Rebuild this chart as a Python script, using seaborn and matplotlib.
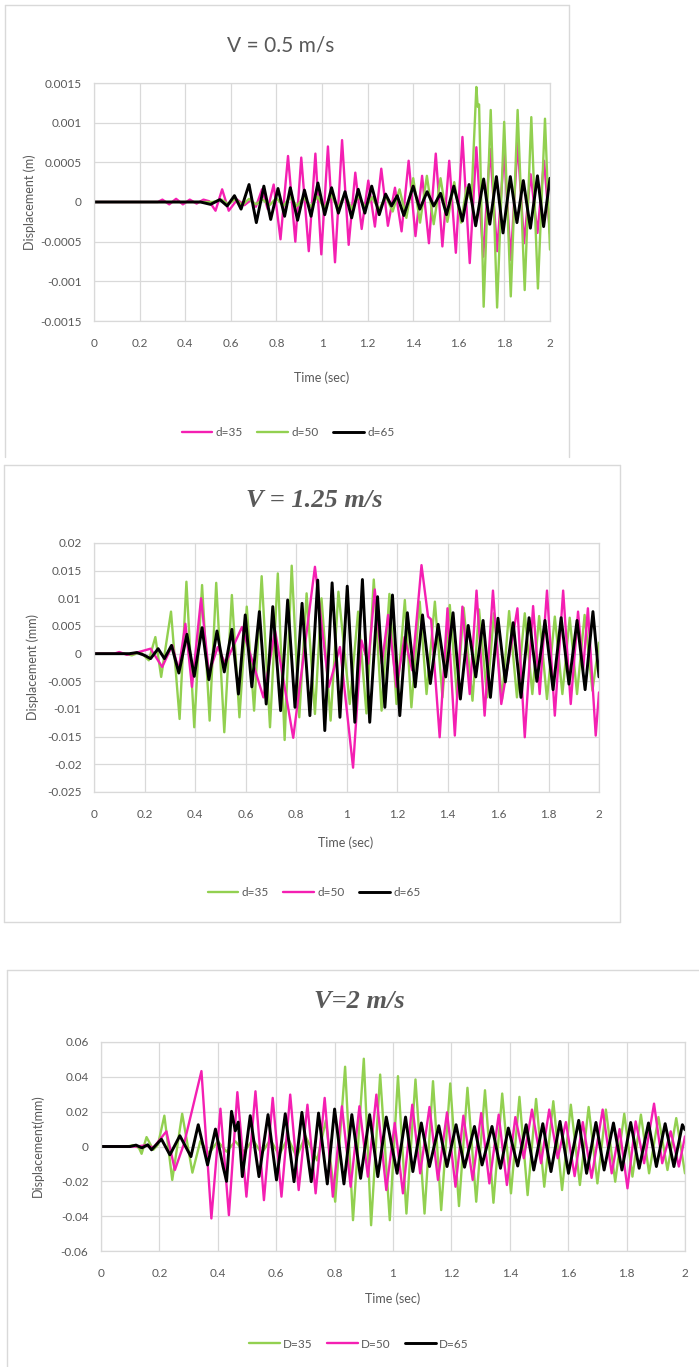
import matplotlib
matplotlib.use("Agg")
import matplotlib.pyplot as plt
from matplotlib import font_manager
from matplotlib.lines import Line2D
import seaborn as sns
import pandas as pd

# ---------------------------------------------------------------------------
# Data: turning points of each displacement record (time in s)
# ---------------------------------------------------------------------------
# V = 0.5 m/s, displacement in units of 1e-4 m
v05_d35_t = [0, 0.28, 0.30, 0.33, 0.36, 0.39, 0.42, 0.45, 0.48, 0.505, 0.533, 0.562, 0.591, 0.628, 0.66, 0.69,
             0.71, 0.737, 0.762, 0.788, 0.818, 0.851, 0.883, 0.909, 0.942, 0.971, 0.997, 1.026, 1.057, 1.088,
             1.117, 1.146, 1.174, 1.203, 1.232, 1.260, 1.289, 1.320, 1.349, 1.380, 1.410, 1.439, 1.469, 1.499,
             1.528, 1.558, 1.587, 1.616, 1.648, 1.677, 1.707, 1.737, 1.768, 1.799, 1.828, 1.858, 1.886, 1.915,
             1.945, 1.974, 2.0]
v05_d35_u = [0, 0, 0.3, -0.3, 0.4, -0.3, 0.3, -0.2, 0.3, 0.1, -1.1, 1.6, -1.1, 0.3, -0.4, 0.3, -0.6, 1.6, -0.9,
             2.2, -4.7, 5.8, -5.0, 5.6, -6.2, 6.1, -6.6, 7.0, -7.6, 7.8, -5.4, 3.7, -3.4, 2.7, -3.1, 4.2, -3.0,
             1.8, -3.7, 5.2, -4.3, 3.3, -5.2, 6.1, -5.6, 5.2, -6.4, 8.2, -7.7, 6.9, -6.9, 6.7, -6.2, 6.3, -7.3,
             7.5, -5.2, 3.5, -3.9, 5.2, -4.0]
v05_d50_t = [0, 0.52, 0.56, 0.59, 0.62, 0.65, 0.68, 0.71, 0.74, 0.77, 0.80, 0.83, 0.86, 0.89, 0.92, 0.95, 0.98,
             1.01, 1.04, 1.07, 1.10, 1.13, 1.16, 1.19, 1.22, 1.25, 1.28, 1.31, 1.34, 1.37, 1.40, 1.43, 1.46,
             1.49, 1.52, 1.55, 1.58, 1.61, 1.634, 1.655, 1.677, 1.683, 1.689, 1.709, 1.740, 1.768, 1.799, 1.828,
             1.858, 1.889, 1.918, 1.947, 1.978, 2.0]
v05_d50_u = [0, 0, 0.3, -0.3, 0.4, -0.4, 0.4, -0.3, 0.3, -0.4, 0.5, -0.5, 0.6, -0.5, 0.6, -0.6, 0.7, -0.8, 0.9,
             -0.8, 1.0, -0.9, 0.8, -0.7, 0.6, -1.0, 0.7, -1.2, 1.6, -2.0, 3.0, -2.6, 3.3, -2.8, 3.0, -2.5, 2.5,
             -2.6, 1.8, 0.1, 14.5, 12.0, 12.3, -13.2, 11.6, -13.3, 10.1, -11.9, 11.6, -11.1, 10.7, -10.9, 10.5,
             -6.0]
v05_d65_t = [0, 0.45, 0.467, 0.511, 0.552, 0.584, 0.616, 0.645, 0.680, 0.712, 0.745, 0.775, 0.807, 0.836, 0.861,
             0.893, 0.923, 0.952, 0.982, 1.012, 1.042, 1.072, 1.101, 1.130, 1.159, 1.188, 1.218, 1.251, 1.279,
             1.305, 1.330, 1.359, 1.400, 1.429, 1.461, 1.490, 1.520, 1.546, 1.578, 1.616, 1.645, 1.674, 1.709,
             1.736, 1.765, 1.794, 1.826, 1.855, 1.883, 1.914, 1.945, 1.972, 2.0]
v05_d65_u = [0, 0, 0, -0.3, 0.3, -0.5, 0.8, -0.9, 2.2, -2.6, 2.0, -2.2, 1.7, -1.8, 1.8, -2.3, 1.5, -1.8, 2.4,
             -1.6, 1.8, -1.4, 1.3, -2.0, 1.6, -1.4, 2.0, -1.6, 1.0, -0.5, 0.8, -1.7, 2.0, -0.9, 1.3, -0.5, 1.1,
             -1.6, 2.0, -2.4, 2.2, -3.0, 2.9, -2.8, 3.2, -3.9, 3.2, -2.6, 2.7, -3.3, 3.3, -3.1, 3.0]

# V = 1.25 m/s, displacement in units of 1e-3 mm
v125_d35_t = [0, 0.12, 0.15, 0.184, 0.217, 0.243, 0.266, 0.305, 0.339, 0.366, 0.397, 0.428, 0.458, 0.484, 0.516,
              0.546, 0.576, 0.605, 0.634, 0.664, 0.697, 0.728, 0.755, 0.783, 0.813, 0.842, 0.875, 0.901, 0.937,
              0.968, 1.013, 1.046, 1.079, 1.108, 1.139, 1.17, 1.198, 1.231, 1.257, 1.29, 1.317, 1.35, 1.38,
              1.409, 1.438, 1.464, 1.499, 1.525, 1.557, 1.584, 1.616, 1.644, 1.675, 1.706, 1.736, 1.763, 1.794,
              1.825, 1.855, 1.884, 1.913, 1.943, 1.974, 2.0]
v125_d35_u = [0, 0, -0.3, 0.3, -1.2, 3.0, -4.2, 7.6, -11.8, 13.0, -13.3, 12.4, -12.1, 12.8, -14.2, 10.6, -11.5,
              8.5, -10.3, 14.0, -13.3, 14.5, -15.6, 15.9, -11.5, 10.9, -10.9, 10.0, -12.1, 11.2, -9.1, 7.6,
              -10.8, 13.4, -10.3, 10.8, -9.1, 9.7, -9.7, 9.4, -7.3, 9.4, -7.9, 8.8, -7.9, 8.3, -8.5, 8.0, -7.9,
              7.3, -8.2, 7.7, -7.9, 7.3, -7.3, 6.8, -8.2, 6.7, -7.3, 6.5, -7.3, 7.0, -6.7, 2.0]
v125_d50_t = [0, 0.08, 0.10, 0.13, 0.17, 0.224, 0.27, 0.31, 0.335, 0.362, 0.388, 0.424, 0.455, 0.49, 0.52,
              0.586, 0.671, 0.717, 0.789, 0.875, 0.93, 0.974, 1.026, 1.059, 1.086, 1.112, 1.14, 1.165, 1.198,
              1.23, 1.26, 1.297, 1.323, 1.335, 1.369, 1.40, 1.429, 1.459, 1.488, 1.515, 1.547, 1.58, 1.613,
              1.677, 1.706, 1.739, 1.765, 1.794, 1.825, 1.858, 1.888, 1.917, 1.937, 1.956, 1.987, 2.0]
v125_d50_u = [0, 0, 0.3, -0.2, 0.2, 0.9, -2.4, 1.5, -3.0, 5.4, -6.0, 10.0, -3.6, 1.2, -1.8, 4.8, -7.9, 4.2,
              -15.2, 15.7, -6.0, 1.2, -20.6, 2.4, -1.8, 11.6, -1.8, 7.0, -6.0, 3.0, -3.0, 16.0, 6.7, 6.2, -15.1,
              8.2, -14.8, 8.5, -7.3, 11.4, -11.2, 11.4, -9.1, 8.2, -15.1, 8.6, -7.3, 11.4, -11.2, 11.4, -9.1,
              7.6, -3.0, 8.2, -14.8, -7.0]
v125_d65_t = [0, 0.14, 0.17, 0.2, 0.224, 0.254, 0.279, 0.307, 0.336, 0.368, 0.397, 0.428, 0.455, 0.487, 0.516,
              0.546, 0.572, 0.599, 0.625, 0.655, 0.682, 0.708, 0.739, 0.767, 0.796, 0.824, 0.855, 0.886, 0.914,
              0.943, 0.974, 1.003, 1.033, 1.063, 1.092, 1.123, 1.152, 1.182, 1.211, 1.241, 1.272, 1.301, 1.332,
              1.363, 1.393, 1.422, 1.451, 1.482, 1.512, 1.541, 1.570, 1.600, 1.629, 1.660, 1.691, 1.723, 1.754,
              1.786, 1.818, 1.850, 1.881, 1.913, 1.945, 1.976, 2.0]
v125_d65_u = [0, 0, 0.2, -0.3, -0.9, 0.9, -0.9, 1.5, -3.5, 3.5, -4.1, 4.7, -4.7, 4.1, -3.3, 4.4, -7.3, 7.0,
              -6.0, 7.6, -9.1, 8.5, -10.3, 9.7, -9.7, 9.1, -11.2, 13.3, -13.9, 12.8, -11.5, 12.2, -12.4, 13.4,
              -12.4, 10.3, -9.7, 10.6, -11.2, 7.4, -6.0, 7.0, -5.4, 5.3, -4.2, 7.4, -8.2, 5.1, -4.2, 6.0, -7.9,
              6.4, -5.1, 5.6, -7.9, 6.5, -5.0, 6.0, -6.5, 6.5, -5.5, 6.0, -6.5, 7.6, -4.2]

# V = 2 m/s, displacement in units of 1e-3 mm
v2_d35_t = [0, 0.09, 0.11, 0.13, 0.139, 0.156, 0.179, 0.195, 0.217, 0.244, 0.278, 0.313, 0.34, 0.37, 0.40, 0.43,
            0.46, 0.49, 0.52, 0.55, 0.58, 0.61, 0.64, 0.67, 0.70, 0.74, 0.77, 0.802, 0.836, 0.863, 0.90, 0.925,
            0.956, 0.989, 1.017, 1.046, 1.077, 1.108, 1.137, 1.165, 1.196, 1.226, 1.255, 1.285, 1.315, 1.344,
            1.374, 1.404, 1.433, 1.461, 1.49, 1.518, 1.549, 1.579, 1.609, 1.64, 1.67, 1.70, 1.729, 1.761, 1.792,
            1.82, 1.849, 1.877, 1.909, 1.94, 1.97, 2.0]
v2_d35_u = [0, 0, 0.8, -0.8, -4.2, 5.4, -1.9, 1.0, 17.7, -19.2, 18.8, -15.0, 3.0, -4.0, 3.0, -3.0, 3.0, -3.0,
            4.0, -4.0, 4.0, -5.0, 5.0, -6.0, 6.0, -8.0, 15.0, -31.7, 45.8, -42.3, 50.4, -45.2, 41.3, -42.3, 40.4,
            -38.5, 38.5, -38.5, 37.5, -36.5, 36.2, -34.2, 33.7, -31.7, 32.3, -32.3, 30.4, -26.9, 28.5, -27.9,
            27.3, -23.1, 26.0, -25.0, 24.0, -22.1, 22.7, -21.2, 21.2, -20.2, 18.8, -17.3, 18.3, -15.4, 16.9,
            -13.5, 16.3, -15.4]
v2_d50_t = [0, 0.12, 0.15, 0.18, 0.224, 0.253, 0.285, 0.344, 0.378, 0.409, 0.438, 0.467, 0.498, 0.529, 0.558,
            0.588, 0.618, 0.648, 0.677, 0.707, 0.735, 0.766, 0.794, 0.825, 0.855, 0.885, 0.914, 0.943, 0.977,
            1.006, 1.034, 1.066, 1.093, 1.125, 1.154, 1.185, 1.214, 1.241, 1.273, 1.302, 1.330, 1.362, 1.39,
            1.419, 1.448, 1.476, 1.507, 1.535, 1.564, 1.592, 1.622, 1.65, 1.68, 1.718, 1.749, 1.776, 1.803,
            1.831, 1.86, 1.894, 1.922, 1.951, 1.979, 2.0]
v2_d50_u = [0, 0, 0.6, -0.5, 8.7, -13.5, 2.0, 43.3, -41.3, 21.7, -39.4, 31.2, -28.8, 31.7, -30.8, 27.9, -28.8,
            29.8, -25.0, 24.0, -26.9, 27.9, -28.8, 23.1, -23.1, 23.1, -17.3, 29.8, -25.0, 13.5, -26.9, 24.0,
            -15.4, 22.7, -19.2, 19.6, -23.1, 17.7, -19.2, 19.2, -21.2, 18.3, -22.1, 16.9, -6.7, 21.2, -9.6, 21.2,
            -6.7, 14.0, -17.0, 14.0, -18.0, 21.2, -15.4, 10.0, -24.0, 14.4, -9.6, 24.6, -9.6, 8.7, -11.5, 5.8]
v2_d65_t = [0, 0.10, 0.12, 0.14, 0.16, 0.173, 0.207, 0.236, 0.27, 0.308, 0.333, 0.365, 0.392, 0.418, 0.43, 0.447,
            0.46, 0.47, 0.484, 0.511, 0.541, 0.572, 0.601, 0.631, 0.661, 0.688, 0.72, 0.745, 0.775, 0.80, 0.832,
            0.859, 0.889, 0.92, 0.948, 0.977, 1.014, 1.043, 1.068, 1.097, 1.125, 1.157, 1.185, 1.216, 1.245,
            1.279, 1.305, 1.339, 1.368, 1.395, 1.427, 1.456, 1.482, 1.513, 1.541, 1.572, 1.601, 1.636, 1.663,
            1.695, 1.723, 1.755, 1.784, 1.814, 1.843, 1.875, 1.902, 1.932, 1.962, 1.991, 2.0]
v2_d65_u = [0, 0, 0.8, -0.8, 1.0, -1.9, 4.2, -4.8, 6.2, -5.8, 12.5, -10.6, 10.0, -11.5, -20.0, 20.2, 9.0, 14.0,
            -17.3, 17.7, -17.3, 18.3, -19.2, 18.8, -20.2, 19.6, -20.2, 19.2, -21.5, 21.5, -21.5, 18.3, -18.3,
            18.3, -17.3, 16.9, -15.4, 16.9, -14.4, 13.5, -11.5, 11.9, -11.5, 12.5, -11.9, 11.5, -10.6, 11.5,
            -12.5, 10.6, -11.2, 12.5, -13.5, 13.1, -14.4, 14.4, -15.4, 15.0, -15.4, 13.8, -13.5, 13.5, -13.5,
            13.8, -12.5, 13.5, -11.5, 13.1, -11.5, 12.5, 9.6]

# Axis ticks
time_ticks = [0, 0.2, 0.4, 0.6, 0.8, 1.0, 1.2, 1.4, 1.6, 1.8, 2.0]
time_labels = ["0", "0.2", "0.4", "0.6", "0.8", "1", "1.2", "1.4", "1.6", "1.8", "2"]
v05_yticks = [-0.0015, -0.001, -0.0005, 0, 0.0005, 0.001, 0.0015]
v05_ylabels = ["-0.0015", "-0.001", "-0.0005", "0", "0.0005", "0.001", "0.0015"]
v125_yticks = [-0.025, -0.02, -0.015, -0.01, -0.005, 0, 0.005, 0.01, 0.015, 0.02]
v125_ylabels = ["-0.025", "-0.02", "-0.015", "-0.01", "-0.005", "0", "0.005", "0.01", "0.015", "0.02"]
v2_yticks = [-0.06, -0.04, -0.02, 0, 0.02, 0.04, 0.06]
v2_ylabels = ["-0.06", "-0.04", "-0.02", "0", "0.02", "0.04", "0.06"]

# ---------------------------------------------------------------------------
# Style
# ---------------------------------------------------------------------------
sns.set_style("white")
installed = {f.name for f in font_manager.fontManager.ttflist}


def pick(*names):
    for n in names:
        if n in installed:
            return n
    return "DejaVu Sans"


SANS = pick("Lato", "Open Sans", "Liberation Sans")
SERIF = pick("Liberation Serif", "DejaVu Serif")
plt.rcParams["font.family"] = [SANS, "DejaVu Sans"]

MAGENTA = "#F41FB2"
GREEN = "#92D050"
BLACK = "#000000"
GRID = "#D9D9D9"
TEXT = "#595959"

W, H = 699, 1367
fig = plt.figure(figsize=(W / 100, H / 100), dpi=100)


def px_axes(x0, y0, x1, y1):
    return fig.add_axes([x0 / W, 1 - y1 / H, (x1 - x0) / W, (y1 - y0) / H])


def fx(x):
    return x / W


def fy(y):
    return 1 - y / H


def frame(x0, y0, x1, y1, sides):
    pts = {"left": ([x0, x0], [y0, y1]), "right": ([x1, x1], [y0, y1]),
           "top": ([x0, x1], [y0, y0]), "bottom": ([x0, x1], [y1, y1])}
    for s in sides:
        xs, ys = pts[s]
        fig.add_artist(Line2D([fx(v) for v in xs], [fy(v) for v in ys], color=GRID, lw=1.0))


def panel(box, series, scale, yticks, ylabels, ylim):
    ax = px_axes(*box)
    for name, t, u, color, lw in series:
        df = pd.DataFrame({"Time": t, "Disp": [v * scale for v in u]})
        sns.lineplot(data=df, x="Time", y="Disp", ax=ax, color=color, lw=lw, label=name,
                     sort=False, estimator=None, solid_joinstyle="round", solid_capstyle="round")
    ax.set_xlim(0, 2)
    ax.set_ylim(*ylim)
    ax.set_xticks(time_ticks, time_labels)
    ax.set_yticks(yticks, ylabels)
    ax.grid(True, color=GRID, lw=0.9)
    ax.set_axisbelow(True)
    for sp in ax.spines.values():
        sp.set_color(GRID)
        sp.set_linewidth(0.9)
    ax.tick_params(length=0, labelsize=8.5, labelcolor=TEXT)
    ax.tick_params(axis="x", pad=12)
    ax.tick_params(axis="y", pad=9)
    ax.set_xlabel("")
    ax.set_ylabel("")
    ax.get_legend().remove()
    return ax


def legend(ax, cx, cy):
    ax.legend(loc="center", bbox_to_anchor=(fx(cx), fy(cy)), bbox_transform=fig.transFigure,
              ncol=3, frameon=False, fontsize=8.5, handlelength=2.6, handletextpad=0.3,
              columnspacing=1.2, labelcolor=TEXT)


# ---- V = 0.5 m/s ----------------------------------------------------------
frame(5, 5, 569, 457, ["left", "top", "right"])
ax1 = panel((94, 83, 550, 321),
            [("d=35", v05_d35_t, v05_d35_u, MAGENTA, 1.7),
             ("d=50", v05_d50_t, v05_d50_u, GREEN, 1.7),
             ("d=65", v05_d65_t, v05_d65_u, BLACK, 2.1)],
            1e-4, v05_yticks, v05_ylabels, (-0.0015, 0.0015))
fig.text(fx(281), fy(45), "V = 0.5 m/s", ha="center", va="center", fontsize=15, color=TEXT)
fig.text(fx(30), fy(202), "Displacement (m)", ha="center", va="center", rotation=90,
         fontsize=9, color=TEXT)
fig.text(fx(322), fy(378), "Time (sec)", ha="center", va="center", fontsize=9, color=TEXT)
legend(ax1, 288, 433)

# ---- V = 1.25 m/s ---------------------------------------------------------
frame(4, 465, 620, 922, ["left", "top", "right", "bottom"])
ax2 = panel((94, 543, 599, 792),
            [("d=35", v125_d35_t, v125_d35_u, GREEN, 1.7),
             ("d=50", v125_d50_t, v125_d50_u, MAGENTA, 1.7),
             ("d=65", v125_d65_t, v125_d65_u, BLACK, 2.1)],
            1e-3, v125_yticks, v125_ylabels, (-0.025, 0.02))
fig.text(fx(314), fy(500), "V = 1.25 m/s", ha="center", va="center", fontsize=19, color=TEXT,
         family=SERIF, weight="bold", style="italic")
fig.text(fx(33), fy(667), "Displacement (mm)", ha="center", va="center", rotation=90,
         fontsize=9, color=TEXT)
fig.text(fx(346), fy(843), "Time (sec)", ha="center", va="center", fontsize=9, color=TEXT)
legend(ax2, 314, 893)

# ---- V = 2 m/s ------------------------------------------------------------
frame(7, 970, 699, 1367, ["left", "top"])
ax3 = panel((101, 1042, 685, 1251),
            [("D=35", v2_d35_t, v2_d35_u, GREEN, 1.7),
             ("D=50", v2_d50_t, v2_d50_u, MAGENTA, 1.7),
             ("D=65", v2_d65_t, v2_d65_u, BLACK, 2.1)],
            1e-3, v2_yticks, v2_ylabels, (-0.06, 0.06))
fig.text(fx(359), fy(1002), "V=2 m/s", ha="center", va="center", fontsize=19, color=TEXT,
         family=SERIF, weight="bold", style="italic")
fig.text(fx(38), fy(1146), "Displacement(mm)", ha="center", va="center", rotation=90,
         fontsize=9, color=TEXT)
fig.text(fx(393), fy(1299), "Time (sec)", ha="center", va="center", fontsize=9, color=TEXT)
legend(ax3, 359, 1344)

fig.savefig("out.png", dpi=100)
